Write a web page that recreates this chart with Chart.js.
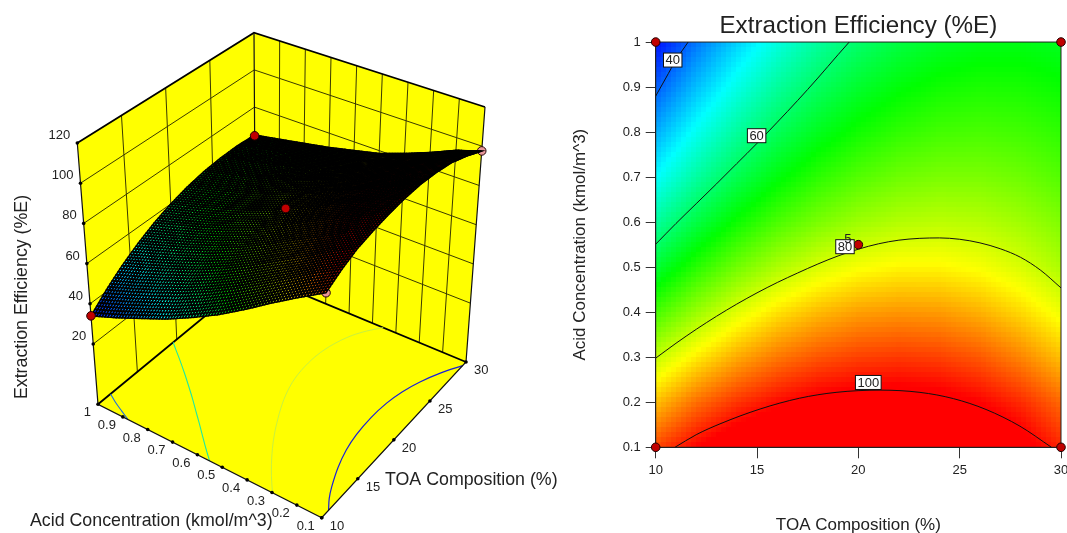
<!DOCTYPE html>
<html>
<head>
<meta charset="utf-8">
<script src="https://cdn.jsdelivr.net/npm/chart.js@4/dist/chart.umd.min.js"></script>
<style>
  body { margin: 0; background: #fff; }
  canvas { position: absolute; top: 0; }
  #surfaceChart { left: 0; }
  #contourChart { left: 562px; }
</style>
</head>
<body>
<canvas id="surfaceChart" width="562" height="533"></canvas>
<canvas id="contourChart" width="505" height="533"></canvas>
<script>
//Data//
const toaTicks = [10, 15, 20, 25, 30];
const acidTicks = [0.1, 0.2, 0.3, 0.4, 0.5, 0.6, 0.7, 0.8, 0.9, 1];
const efficiencyTicks = [20, 40, 60, 80, 100, 120];

// %E at TOA 10,12..30, one row per acid level, 1 first
const gridToa = [10, 12, 14, 16, 18, 20, 22, 24, 26, 28, 30];
const gridAcid = [1, 0.9, 0.8, 0.7, 0.6, 0.5, 0.4, 0.3, 0.2, 0.1];
const efficiencyGrid = [
  [34, 40.9, 46.9, 52.1, 56.5, 60, 62.7, 64.5, 65.5, 65.7, 65],
  [39, 45.7, 51.6, 56.6, 60.7, 64, 66.4, 68, 68.7, 68.5, 67.5],
  [44.5, 50.9, 56.5, 61.2, 65, 68, 70.1, 71.4, 71.8, 71.3, 70],
  [50, 56.3, 61.7, 66.2, 69.8, 72.5, 74.3, 75.2, 75.2, 74.3, 72.5],
  [56.5, 62.5, 67.7, 71.9, 75.1, 77.5, 78.9, 79.5, 79.1, 77.7, 75.5],
  [63.5, 69.5, 74.5, 78.5, 81.5, 83.5, 84.5, 84.5, 83.5, 81.5, 78.5],
  [71.5, 77.2, 82, 85.7, 88.3, 90, 90.6, 90.3, 88.9, 86.4, 83],
  [80, 85.1, 89.3, 92.5, 94.7, 96, 96.5, 96, 94.5, 91.7, 88],
  [88, 93.1, 96.8, 99.4, 101.2, 102, 102.2, 101.6, 100, 97.4, 93.5],
  [95.5, 100, 103.5, 105.5, 107, 108, 108.2, 107.3, 105.5, 102, 97.6]
];

const contour40Toa = [10, 10.5, 11, 11.6];
const contour40Acid = [0.88, 0.92, 0.96, 1];
const contour60Toa = [10, 11, 12, 13, 14, 15, 16, 17, 18, 19, 19.55];
const contour60Acid = [0.551, 0.597, 0.641, 0.685, 0.73, 0.775, 0.822, 0.87, 0.92, 0.972, 1];
const contour80Toa = [10, 11, 12, 13, 14, 15, 16, 17, 18, 19, 20, 21, 22, 23, 24, 25, 26, 27, 28, 29, 30];
const contour80Acid = [0.298, 0.331, 0.362, 0.391, 0.418, 0.443, 0.466, 0.487, 0.507, 0.525, 0.54, 0.552, 0.56, 0.564, 0.565, 0.562, 0.554, 0.541, 0.522, 0.493, 0.454];
const contour100Toa = [10.95, 12, 13.17, 15.15, 17.1, 18.9, 21.07, 23.04, 24.7, 26.3, 27.97, 29.53];
const contour100Acid = [0.1, 0.128, 0.152, 0.185, 0.209, 0.222, 0.227, 0.222, 0.208, 0.184, 0.147, 0.1];

const labelText = ["40", "60", "80", "100"];
const labelToa = [10.84, 14.98, 19.34, 20.49];
const labelAcid = [0.96, 0.792, 0.5455, 0.244];

const designToa = [10, 30, 20, 10, 30];
const designAcid = [1, 1, 0.55, 0.1, 0.1];
const designEfficiency = [34, 64.6, 81, 95.5, 97.6];

const colorLevels = [33, 50, 67, 84, 100];
const colorStops = [[0, 0, 255], [0, 255, 255], [0, 255, 0], [255, 255, 0], [255, 0, 0]];

//Shared helpers//
const textColor = "#222";
const fontFamily = "'Liberation Sans', Arial, sans-serif";

const lerp = (a, b, t) => a + (b - a) * t;

const lookupEfficiency = (toa, acid) => {
  const col = Math.max(0, Math.min((toa - 10) / 2, gridToa.length - 1.0001));
  const row = Math.max(0, Math.min((1 - acid) / 0.1, gridAcid.length - 1.0001));
  const c = Math.floor(col);
  const r = Math.floor(row);
  const top = lerp(efficiencyGrid[r][c], efficiencyGrid[r][c + 1], col - c);
  const bottom = lerp(efficiencyGrid[r + 1][c], efficiencyGrid[r + 1][c + 1], col - c);
  return lerp(top, bottom, row - r);
};

const efficiencyColor = (value) => {
  let i = 0;
  while (i < colorLevels.length - 2 && value > colorLevels[i + 1]) i++;
  const t = Math.max(0, Math.min(1, (value - colorLevels[i]) / (colorLevels[i + 1] - colorLevels[i])));
  const rgb = colorStops[i].map((c, k) => Math.round(lerp(c, colorStops[i + 1][k], t)));
  return `rgb(${rgb[0]},${rgb[1]},${rgb[2]})`;
};

//3D box//
// where the eight corners of the box sit on the left canvas: [toa][acid][efficiency]
const boxCorners = {
  "000": [321.7, 517.7], "100": [466, 362], "010": [98, 404.3], "110": [255.5, 274.6],
  "001": [327, 240.5], "101": [485, 107], "011": [77.3, 143], "111": [254, 32.7]
};
const floorLevel = -10;
const topLevel = 120;

const project = (toa, acid, efficiency) => {
  const u = (toa - 10) / 20;
  const v = (acid - 0.1) / 0.9;
  const w = (efficiency - floorLevel) / (topLevel - floorLevel);
  const point = [0, 0];
  for (const key in boxCorners) {
    const weight = (key[0] === "1" ? u : 1 - u) * (key[1] === "1" ? v : 1 - v) * (key[2] === "1" ? w : 1 - w);
    point[0] += boxCorners[key][0] * weight;
    point[1] += boxCorners[key][1] * weight;
  }
  return { x: point[0], y: point[1] };
};

const gap = { x: NaN, y: NaN };

const wallGridPoints = () => {
  const points = [];
  efficiencyTicks.slice(0, -1).forEach((e) => {
    points.push(project(10, 1, e), project(30, 1, e), project(30, 0.1, e), gap);
  });
  toaTicks.slice(1, -1).forEach((t) => {
    points.push(project(t, 1, floorLevel), project(t, 1, topLevel), gap);
  });
  acidTicks.slice(1, -1).forEach((a) => {
    points.push(project(30, a, floorLevel), project(30, a, topLevel), gap);
  });
  return points;
};

const backFramePoints = () => [
  project(10, 1, floorLevel), project(30, 1, floorLevel), project(30, 0.1, floorLevel), gap,
  project(10, 1, topLevel), project(30, 1, topLevel), project(30, 0.1, topLevel), gap
];

const outerFramePoints = () => [
  project(10, 1, topLevel), project(10, 1, floorLevel), project(10, 0.1, floorLevel),
  project(30, 0.1, floorLevel), project(30, 0.1, topLevel), gap,
  project(30, 1, floorLevel), project(30, 1, topLevel)
];

const floorContour = (toaList, acidList) => toaList.map((t, i) => project(t, acidList[i], floorLevel));

const tickDotPoints = () => [
  ...toaTicks.map((t) => project(t, 0.1, floorLevel)),
  ...acidTicks.map((a) => project(10, a, floorLevel)),
  ...efficiencyTicks.map((e) => project(10, 1, e))
];

const lineSet = (data, color, width, order, tension = 0) => ({
  data, showLine: true, borderColor: color, borderWidth: width, pointRadius: 0, order, spanGaps: false, tension
});

const dotSet = (indexes, fill, order) => ({
  data: indexes.map((i) => project(designToa[i], designAcid[i], designEfficiency[i])),
  pointRadius: 4.3, pointBackgroundColor: fill, pointBorderColor: "#200", pointBorderWidth: 1, order, clip: false
});

const wallsPlugin = {
  id: "walls",
  beforeDatasetsDraw(chart) {
    const { ctx, scales } = chart;
    const faces = [
      [[10, 1, floorLevel], [10, 1, topLevel], [30, 1, topLevel], [30, 1, floorLevel]],
      [[30, 1, floorLevel], [30, 1, topLevel], [30, 0.1, topLevel], [30, 0.1, floorLevel]],
      [[10, 0.1, floorLevel], [30, 0.1, floorLevel], [30, 1, floorLevel], [10, 1, floorLevel]]
    ];
    ctx.save();
    ctx.fillStyle = "#ffff00";
    faces.forEach((face) => {
      ctx.beginPath();
      face.forEach((c) => {
        const p = project(c[0], c[1], c[2]);
        ctx.lineTo(scales.x.getPixelForValue(p.x), scales.y.getPixelForValue(p.y));
      });
      ctx.closePath();
      ctx.fill();
    });
    ctx.restore();
  }
};

const surfacePlugin = {
  id: "surface",
  afterDatasetDraw(chart, args) {
    if (chart.data.datasets[args.index].label !== "surface") return;
    const { ctx, scales } = chart;
    const steps = 80;
    const corner = (i, j) => {
      const toa = 30 - (20 * i) / steps;
      const acid = 1 - (0.9 * j) / steps;
      const p = project(toa, acid, lookupEfficiency(toa, acid));
      return [scales.x.getPixelForValue(p.x), scales.y.getPixelForValue(p.y)];
    };
    ctx.save();
    ctx.strokeStyle = "#000";
    ctx.lineWidth = 1.45;
    // back corner first so that nearer cells paint over
    for (let i = 0; i < steps; i++) {
      for (let j = 0; j < steps; j++) {
        const a = corner(i, j), b = corner(i + 1, j), c = corner(i + 1, j + 1), d = corner(i, j + 1);
        const toa = 30 - (20 * (i + 0.5)) / steps;
        const acid = 1 - (0.9 * (j + 0.5)) / steps;
        ctx.beginPath();
        ctx.moveTo(a[0], a[1]);
        ctx.lineTo(b[0], b[1]);
        ctx.lineTo(c[0], c[1]);
        ctx.lineTo(d[0], d[1]);
        ctx.closePath();
        ctx.fillStyle = efficiencyColor(lookupEfficiency(toa, acid));
        ctx.fill();
        ctx.stroke();
      }
    }
    ctx.restore();
  }
};

const surfaceTextPlugin = {
  id: "surfaceText",
  afterDraw(chart) {
    const { ctx, scales } = chart;
    const at = (p) => [scales.x.getPixelForValue(p.x), scales.y.getPixelForValue(p.y)];
    ctx.save();
    ctx.fillStyle = textColor;
    ctx.textBaseline = "middle";
    ctx.font = `13px ${fontFamily}`;
    ctx.textAlign = "right";
    efficiencyTicks.forEach((e) => {
      const [x, y] = at(project(10, 1, e));
      ctx.fillText(String(e), x - 7, y - 7.5);
    });
    acidTicks.forEach((a) => {
      const [x, y] = at(project(10, a, floorLevel));
      ctx.fillText(String(a), x - 7, y + 8.5);
    });
    ctx.textAlign = "left";
    toaTicks.forEach((t) => {
      const [x, y] = at(project(t, 0.1, floorLevel));
      ctx.fillText(String(t), x + 8, y + 8.5);
    });
    ctx.font = `17.8px ${fontFamily}`;
    ctx.fillText("TOA Composition (%)", 385, 480);
    ctx.fillText("Acid Concentration (kmol/m^3)", 30, 521);
    ctx.translate(22, 297);
    ctx.rotate(-Math.PI / 2);
    ctx.textAlign = "center";
    ctx.fillText("Extraction Efficiency (%E)", 0, 0);
    ctx.restore();
  }
};

new Chart(document.querySelector("#surfaceChart"), {
  type: "scatter",
  data: {
    datasets: [
      lineSet(wallGridPoints(), "#3a3a00", 1, 9),
      lineSet(backFramePoints(), "#000", 1.8, 8),
      lineSet(floorContour(contour40Toa, contour40Acid), "#1f6fe0", 1.1, 7, 0.3),
      lineSet(floorContour(contour60Toa, contour60Acid), "#20e8a0", 1.1, 7, 0.3),
      lineSet(floorContour(contour80Toa, contour80Acid), "#c8f040", 1, 7, 0.3),
      lineSet(floorContour(contour100Toa, contour100Acid), "#1a20d8", 1.2, 7, 0.3),
      lineSet(outerFramePoints(), "#111", 1.2, 6),
      { data: tickDotPoints(), pointRadius: 1.8, pointBackgroundColor: "#000", pointBorderWidth: 0, order: 5 },
      dotSet([3, 4], "#e8969a", 4),
      { label: "surface", data: [], order: 3 },
      dotSet([0, 1, 2], "#c00000", 2)
    ]
  },
  options: {
    responsive: false,
    animation: false,
    events: [],
    layout: { padding: 0, autoPadding: false },
    plugins: { legend: { display: false }, tooltip: { enabled: false } },
    scales: {
      x: { type: "linear", min: 0, max: 562, display: false },
      y: { type: "linear", min: 0, max: 533, reverse: true, display: false }
    }
  },
  plugins: [wallsPlugin, surfacePlugin, surfaceTextPlugin]
});

//Contour plot//
const heatmapPlugin = {
  id: "heatmap",
  beforeDatasetsDraw(chart) {
    const { ctx, chartArea, scales } = chart;
    const cell = 5;
    const left = Math.round(chartArea.left);
    const top = Math.round(chartArea.top);
    const right = Math.round(chartArea.right);
    const bottom = Math.round(chartArea.bottom);
    ctx.save();
    for (let px = left; px < right; px += cell) {
      for (let py = top; py < bottom; py += cell) {
        const toa = scales.x.getValueForPixel(px + cell / 2);
        const acid = scales.y.getValueForPixel(py + cell / 2);
        ctx.fillStyle = efficiencyColor(lookupEfficiency(toa, acid));
        ctx.fillRect(px, py, Math.min(cell, right - px), Math.min(cell, bottom - py));
      }
    }
    ctx.strokeStyle = "#222";
    ctx.lineWidth = 1;
    ctx.strokeRect(chartArea.left, chartArea.top, chartArea.right - chartArea.left, chartArea.bottom - chartArea.top);
    ctx.restore();
  }
};

const contourLabelPlugin = {
  id: "contourLabels",
  afterDatasetsDraw(chart) {
    const { ctx, scales } = chart;
    ctx.save();
    ctx.font = `13px ${fontFamily}`;
    ctx.textAlign = "center";
    ctx.textBaseline = "middle";
    labelText.forEach((text, i) => {
      const x = scales.x.getPixelForValue(labelToa[i]);
      const y = scales.y.getPixelForValue(labelAcid[i]);
      const w = ctx.measureText(text).width + 4;
      ctx.fillStyle = "#fff";
      ctx.strokeStyle = "#111";
      ctx.lineWidth = 1;
      ctx.fillRect(x - w / 2, y - 7, w, 14);
      ctx.strokeRect(x - w / 2, y - 7, w, 14);
      ctx.fillStyle = textColor;
      ctx.fillText(text, x, y + 0.5);
      if (text === "80") ctx.fillText("5", x + 3, y - 7);
    });
    ctx.restore();
  }
};

const blackLine = (toaList, acidList) => ({
  data: toaList.map((t, i) => ({ x: t, y: acidList[i] })),
  showLine: true, borderColor: "#111", borderWidth: 1, pointRadius: 0, order: 3, cubicInterpolationMode: "monotone"
});

new Chart(document.querySelector("#contourChart"), {
  type: "scatter",
  data: {
    datasets: [
      blackLine(contour40Toa, contour40Acid),
      blackLine(contour60Toa, contour60Acid),
      blackLine(contour80Toa, contour80Acid),
      blackLine(contour100Toa, contour100Acid),
      {
        data: designToa.map((t, i) => ({ x: t, y: designAcid[i] })),
        pointRadius: 4.3, pointBackgroundColor: "#c00000", pointBorderColor: "#200", pointBorderWidth: 1, order: 1, clip: false
      }
    ]
  },
  options: {
    responsive: false,
    animation: false,
    events: [],
    layout: { padding: { left: 0, right: 6, top: 0, bottom: 0 }, autoPadding: false },
    plugins: {
      legend: { display: false },
      tooltip: { enabled: false },
      title: {
        display: true,
        text: "Extraction Efficiency (%E)",
        fullSize: false,
        color: textColor,
        font: { family: fontFamily, size: 24.2, weight: "normal" },
        padding: { top: 11.5, bottom: 1.5 }
      }
    },
    scales: {
      x: {
        type: "linear", min: 10, max: 30,
        afterBuildTicks: (s) => { s.ticks = toaTicks.map((value) => ({ value })); },
        afterFit: (s) => { s.height = 85.7; s.paddingLeft = 0; s.paddingRight = 0; },
        grid: { drawOnChartArea: false, tickLength: 11, color: "#333", tickColor: "#333" },
        border: { color: "#222" },
        ticks: { color: textColor, padding: 4, maxRotation: 0, font: { family: fontFamily, size: 13 } },
        title: { display: true, text: "TOA Composition (%)", color: textColor, padding: { top: 0, bottom: -2.5 }, font: { family: fontFamily, size: 17 } }
      },
      y: {
        type: "linear", min: 0.1, max: 1,
        afterBuildTicks: (s) => { s.ticks = acidTicks.map((value) => ({ value })); },
        afterFit: (s) => { s.width = 93.7; s.paddingTop = 0; s.paddingBottom = 0; },
        grid: { drawOnChartArea: false, tickLength: 10, color: "#333", tickColor: "#333" },
        border: { color: "#222" },
        ticks: { color: textColor, padding: 5, font: { family: fontFamily, size: 13 }, callback: (v) => String(Math.round(v * 10) / 10) },
        title: { display: true, text: "Acid Concentration (kmol/m^3)", color: textColor, padding: { top: 8, bottom: 0 }, font: { family: fontFamily, size: 17 } }
      }
    }
  },
  plugins: [heatmapPlugin, contourLabelPlugin]
});
</script>
</body>
</html>
